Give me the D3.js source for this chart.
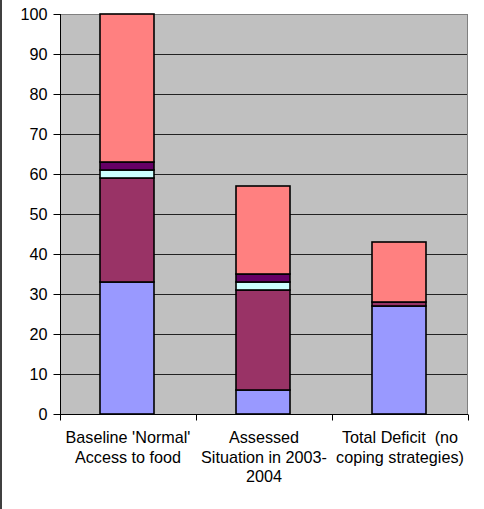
<!DOCTYPE html>
<html>
<head>
<meta charset="utf-8">
<script src="https://cdn.jsdelivr.net/npm/d3@7"></script>
<style>
  html, body { margin: 0; padding: 0; background: #fff; }
  svg { display: block; }
  text { font-family: "Liberation Sans", Arial, sans-serif; fill: #000; white-space: pre; }
</style>
</head>
<body>
<svg id="chart" width="484" height="509"></svg>
<script>
// ---- data ----
const categories = ["Baseline 'Normal' Access to food", "Assessed Situation in 2003-2004", "Total Deficit  (no coping strategies)"];
const categoryLines = [["Baseline 'Normal'", "Access to food"], ["Assessed", "Situation in 2003-", "2004"], ["Total Deficit  (no", "coping strategies)"]];
const seriesNames = ["s1", "s2", "s3", "s4", "s5"];
const s1 = [33, 6, 27];
const s2 = [26, 25, 1];
const s3 = [2, 2, 0];
const s4 = [2, 2, 0];
const s5 = [37, 22, 15];
const seriesColors = ["#9999FF", "#993366", "#CCFFFF", "#660066", "#FF8080"];
const yTicks = [0, 10, 20, 30, 40, 50, 60, 70, 80, 90, 100];

// ---- layout ----
const svg = d3.select("#chart");
const pLeft = 60, pRight = 468, pTop = 14, pBottom = 414;
const fontSize = "16.2px";

const x = d3.scaleBand().domain(categories).range([pLeft, pRight]).paddingInner(0).paddingOuter(0);
const y = d3.scaleLinear().domain([0, 100]).range([pBottom, pTop]);

const rows = categories.map((c, i) => ({ cat: c, s1: s1[i], s2: s2[i], s3: s3[i], s4: s4[i], s5: s5[i] }));
const stacked = d3.stack().keys(seriesNames)(rows);

// outer left border line
svg.append("line").attr("x1", 1).attr("x2", 1).attr("y1", 0).attr("y2", 509)
  .attr("stroke", "#000").attr("stroke-width", 1.5);

// plot background
svg.append("rect").attr("x", pLeft).attr("y", pTop).attr("width", pRight - pLeft).attr("height", pBottom - pTop)
  .attr("fill", "#C0C0C0");

// gridlines
svg.append("g").selectAll("line").data(yTicks.filter(d => d > 0 && d < 100)).join("line")
  .attr("x1", pLeft).attr("x2", pRight)
  .attr("y1", d => Math.round(y(d)) + 0.5).attr("y2", d => Math.round(y(d)) + 0.5)
  .attr("stroke", "#222").attr("stroke-width", 1);

// plot border top/right
svg.append("line").attr("x1", pLeft).attr("x2", pRight).attr("y1", pTop + 0.5).attr("y2", pTop + 0.5)
  .attr("stroke", "#808080").attr("stroke-width", 1);
svg.append("line").attr("x1", pRight - 0.5).attr("x2", pRight - 0.5).attr("y1", pTop).attr("y2", pBottom)
  .attr("stroke", "#808080").attr("stroke-width", 1);

// bars
const barW = 54;
const g = svg.append("g");
stacked.forEach((layer, li) => {
  g.append("g").selectAll("rect").data(layer.filter(d => d[1] - d[0] > 0)).join("rect")
    .attr("x", d => x(d.data.cat) + x.bandwidth() / 2 - barW / 2 - 1)
    .attr("width", barW)
    .attr("y", d => y(d[1]))
    .attr("height", d => y(d[0]) - y(d[1]))
    .attr("fill", seriesColors[li])
    .attr("stroke", "#000")
    .attr("stroke-width", 1.6);
});

// y axis
const yAxis = d3.axisLeft(y).tickValues(yTicks).tickSize(7).tickPadding(6).tickFormat(d3.format("d"));
const ya = svg.append("g").attr("transform", `translate(${pLeft + 0.5},0)`).call(yAxis);
ya.select(".domain").attr("stroke", "#000").attr("d", `M0,${pTop}V${pBottom}`);
ya.selectAll(".tick line").attr("stroke", "#000");
ya.selectAll(".tick text").attr("font-size", fontSize).attr("font-family", "Liberation Sans, Arial, sans-serif").attr("fill", "#000");

// x axis
const xAxis = d3.axisBottom(x).tickSize(0).tickFormat("");
const xa = svg.append("g").attr("transform", `translate(0,${pBottom + 0.5})`).call(xAxis);
xa.select(".domain").attr("stroke", "#000").attr("d", `M${pLeft},0H${pRight}`);
// boundary ticks
const bounds = [pLeft].concat(categories.map(c => x(c) + x.bandwidth()));
xa.append("g").selectAll("line").data(bounds).join("line")
  .attr("x1", d => d + 0.5).attr("x2", d => d + 0.5).attr("y1", 0).attr("y2", 6)
  .attr("stroke", "#000");

// category labels
categories.forEach((c, i) => {
  const cx = x(c) + x.bandwidth() / 2;
  const t = svg.append("text").attr("text-anchor", "middle").attr("font-size", fontSize)
    .attr("xml:space", "preserve");
  categoryLines[i].forEach((ln, j) => {
    t.append("tspan").attr("x", cx).attr("y", 443 + j * 19.7).text(ln);
  });
});
</script>
</body>
</html>
